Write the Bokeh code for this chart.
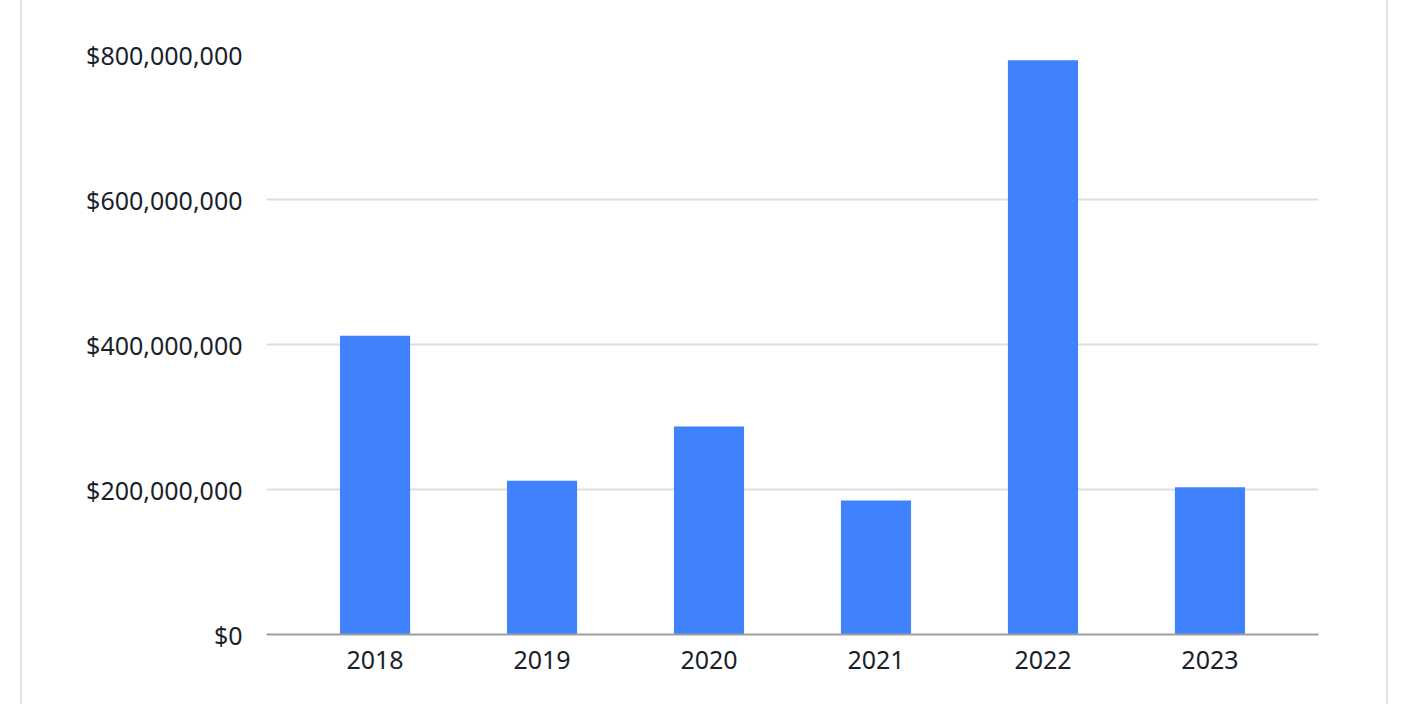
from bokeh.plotting import figure
from bokeh.models import FactorRange, Range1d, NumeralTickFormatter, FixedTicker
from bokeh.embed import file_html
from bokeh.resources import INLINE

years = ["2018", "2019", "2020", "2021", "2022", "2023"]
values = [412_000_000, 212_000_000, 287_000_000, 185_000_000, 792_000_000, 203_000_000]
y_ticks = [0, 200_000_000, 400_000_000, 600_000_000, 800_000_000]

FONT = "Noto Sans"

p = figure(
    x_range=FactorRange(*years, range_padding=0.05),
    y_range=Range1d(0, 800_000_000),
    width=1368, height=704,
    output_backend="svg", toolbar_location=None,
    min_border_left=244, min_border_right=72,
    min_border_top=54, min_border_bottom=70,
)
p.styles = {"margin-left": "20px", "border-left": "2px solid #e2e2e2",
            "border-right": "2px solid #e2e2e2", "box-sizing": "border-box"}

p.vbar(x=years, top=values, width=0.42, color="#4081fd", line_color=None)

p.outline_line_color = None
p.xgrid.grid_line_color = None
p.ygrid.grid_line_color = "#dedede"
p.ygrid.grid_line_width = 2

p.yaxis.ticker = FixedTicker(ticks=y_ticks)
p.yaxis.formatter = NumeralTickFormatter(format="$0,0")
p.yaxis.axis_line_color = None
p.yaxis.major_tick_line_color = None
p.yaxis.minor_tick_line_color = None
p.yaxis.major_label_standoff = 18
p.yaxis.major_label_text_font = FONT
p.yaxis.major_label_text_font_size = "25px"
p.yaxis.major_label_text_color = "#1a1f2c"

p.xaxis.axis_line_color = "#9e9e9e"
p.xaxis.axis_line_width = 2
p.xaxis.major_tick_line_color = None
p.xaxis.minor_tick_line_color = None
p.xaxis.major_label_standoff = 10
p.xaxis.major_label_text_font = FONT
p.xaxis.major_label_text_font_size = "25px"
p.xaxis.major_label_text_color = "#1a1f2c"

open("out.html", "w").write(file_html(p, INLINE))
